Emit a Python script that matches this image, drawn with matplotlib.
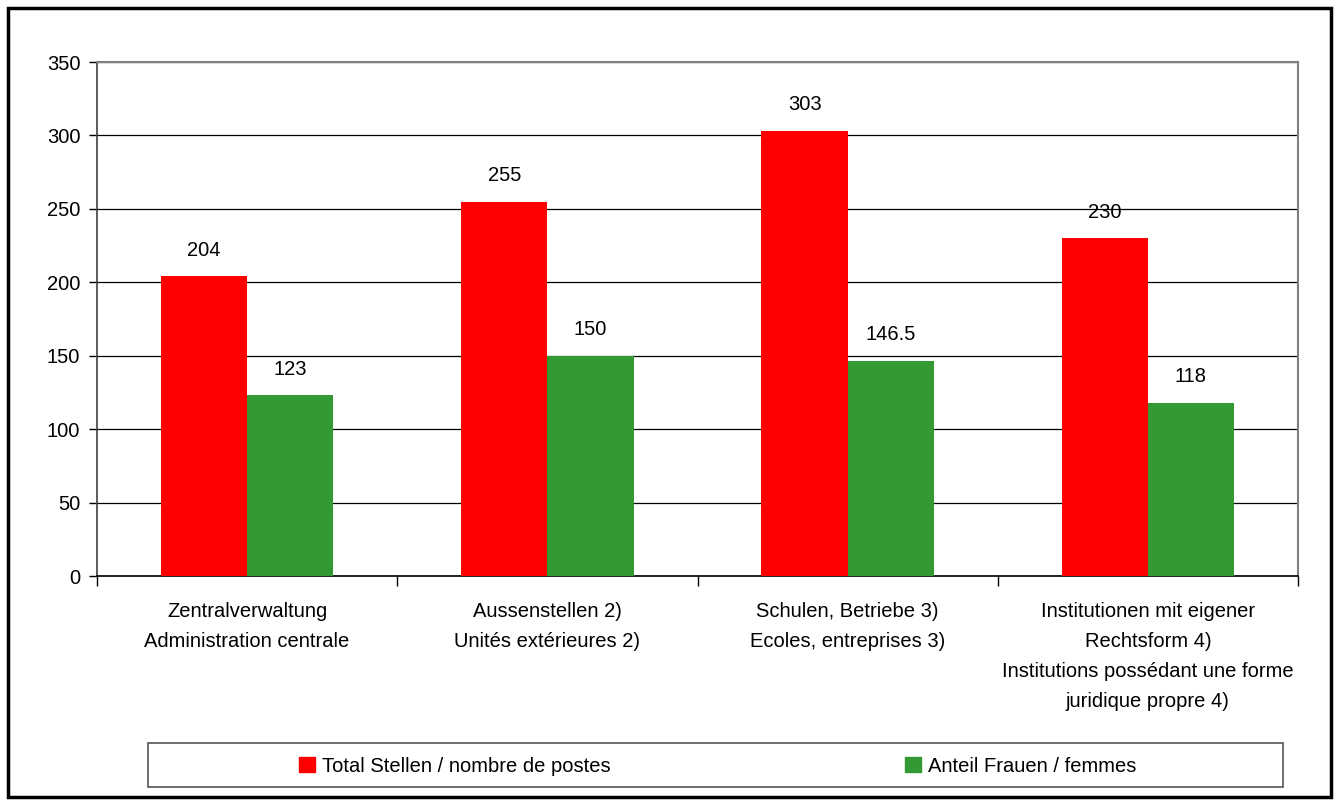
import matplotlib
matplotlib.use('Agg')
from matplotlib import pyplot as plt
from matplotlib.patches import Rectangle, Patch
import numpy as np

categories = ['Zentralverwaltung\nAdministration centrale',
              'Aussenstellen 2)\nUnités extérieures 2)',
              'Schulen, Betriebe 3)\nEcoles, entreprises 3)',
              'Institutionen mit eigener\nRechtsform 4)\nInstitutions possédant une forme\njuridique propre 4)']
total_stellen = [204, 255, 303, 230]
anteil_frauen = [123, 150, 146.5, 118]
series_names = ['Total Stellen / nombre de postes', 'Anteil Frauen / femmes']
y_ticks = [0, 50, 100, 150, 200, 250, 300, 350]

RED = '#ff0000'
GREEN = '#339933'

plt.rcParams['font.family'] = ['Liberation Sans', 'DejaVu Sans']
fs = 14.5

fig = plt.figure(figsize=(13.38, 8.01), dpi=100)
ax = fig.add_axes([97/1338, 1 - 576/801, (1298 - 97)/1338, (576 - 62)/801])

x = np.arange(len(categories))
w = 0.287
b1 = ax.bar(x - w/2, total_stellen, w, color=RED, zorder=3)
b2 = ax.bar(x + w/2, anteil_frauen, w, color=GREEN, zorder=3)
ax.bar_label(b1, labels=[f'{v:g}' for v in total_stellen], padding=12, fontsize=fs)
ax.bar_label(b2, labels=[f'{v:g}' for v in anteil_frauen], padding=12, fontsize=fs)

ax.set_xlim(-0.5, len(categories) - 0.5)
ax.set_ylim(0, 350)
ax.set_yticks(y_ticks)
ax.tick_params(axis='y', labelsize=fs, length=6, width=1, direction='out', pad=6)
ax.yaxis.grid(True, color='black', linewidth=0.9, zorder=0)
ax.set_axisbelow(True)

# category ticks at group boundaries, labels centered
ax.set_xticks(np.arange(-0.5, len(categories) + 0.5, 1))
ax.set_xticklabels([])
ax.set_xticks(x, minor=True)
ax.set_xticklabels(categories, minor=True, fontsize=fs, linespacing=1.72, va='top')
ax.tick_params(axis='x', which='major', length=7, width=1, direction='out')
ax.tick_params(axis='x', which='minor', length=0, pad=19)

for s in ['top', 'right']:
    ax.spines[s].set_color('#808080')
    ax.spines[s].set_linewidth(1.5)
ax.spines['left'].set_color('#404040')
ax.spines['bottom'].set_color('black')
ax.spines['left'].set_linewidth(1.2)
ax.spines['bottom'].set_linewidth(1.2)

# legend box
fig.patches.append(Rectangle((148/1338, 1 - 787/801), (1283 - 148)/1338, 44/801,
                             transform=fig.transFigure, fill=False,
                             edgecolor='#555555', linewidth=1.2))
handles = [Patch(color=RED), Patch(color=GREEN)]
fig.legend(handles, series_names, loc='center', bbox_to_anchor=(718/1338, 1 - 766/801),
           ncol=2, frameon=False, fontsize=fs, handlelength=0.8, handleheight=0.8,
           handletextpad=0.35, columnspacing=14.6)

# outer border
fig.patches.append(Rectangle((8/1338, 1 - 797/801), (1331 - 8)/1338, (797 - 8)/801,
                             transform=fig.transFigure, fill=False,
                             edgecolor='black', linewidth=2.5))

plt.savefig('out.png', dpi=100)
